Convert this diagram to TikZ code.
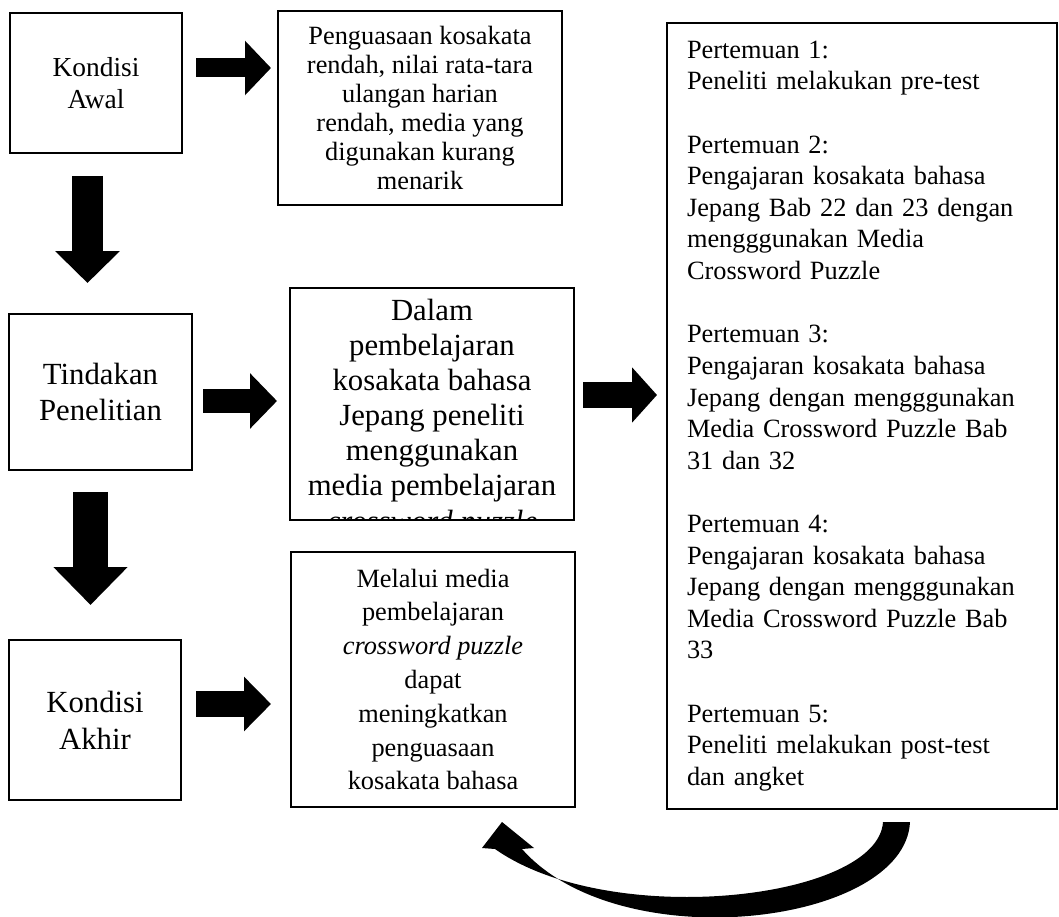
\documentclass[tikz,border=0pt]{standalone}
\usepackage{fontspec}
\setmainfont{Liberation Serif}
\usetikzlibrary{arrows.meta}

\newcommand{\pxu}{0.016cm}
\tikzset{
  box/.style = {draw, line width = 0.8pt, inner sep = 0pt, align = center},
  blockarrow/.style n args = {3}{line width = #1cm, -{Triangle[width = #2cm, length = #3cm]}}
}

\begin{document}
\begin{tikzpicture}[x = \pxu, y = -\pxu]
\useasboundingbox (0, 0) rectangle (1059, 917);

% kolom kiri
\node[box, minimum width = 172*\pxu, minimum height = 140*\pxu, font = \fontsize{12.5}{14.5}\selectfont] (awal) at (96, 83) {Kondisi\\Awal};
\node[box, minimum width = 183*\pxu, minimum height = 156*\pxu, font = \fontsize{14}{16.8}\selectfont] (tindakan) at (100.5, 392) {Tindakan\\Penelitian};
\node[box, minimum width = 172*\pxu, minimum height = 160*\pxu, font = \fontsize{14}{16.8}\selectfont] (akhir) at (95, 720) {Kondisi\\Akhir};

% kolom tengah
\node[box, minimum width = 284*\pxu, minimum height = 194*\pxu, font = \fontsize{12}{13.2}\selectfont] (rendah) at (420, 108) {Penguasaan kosakata\\rendah, nilai rata-tara\\ulangan harian\\rendah, media yang\\digunakan kurang\\menarik};
\node[box, minimum width = 284*\pxu, minimum height = 232*\pxu,
  path picture = {\node[anchor = north, font = \fontsize{14}{16}\selectfont, align = center] at ([yshift = -10*\pxu]path picture bounding box.north) {Dalam\\pembelajaran\\kosakata bahasa\\Jepang peneliti\\menggunakan\\media pembelajaran\\\textit{crossword puzzle}};}] (dalam) at (432, 404) {};
\node[box, minimum width = 284*\pxu, minimum height = 255*\pxu, font = \fontsize{12}{15.4}\selectfont] (melalui) at (433, 679.5) {Melalui media\\pembelajaran\\\textit{crossword puzzle}\\dapat\\meningkatkan\\penguasaan\\kosakata bahasa};

% kolom kanan
\node[box, align = left, text width = 350*\pxu, minimum width = 390*\pxu, minimum height = 786*\pxu, font = \fontsize{12}{14.4}\selectfont] (pertemuan) at (862, 416) {Pertemuan 1:\\Peneliti melakukan pre-test\\\mbox{}\\Pertemuan 2:\\Pengajaran kosakata bahasa\\Jepang Bab 22 dan 23 dengan\\mengggunakan Media\\Crossword Puzzle\\\mbox{}\\Pertemuan 3:\\Pengajaran kosakata bahasa\\Jepang dengan mengggunakan\\Media Crossword Puzzle Bab\\31 dan 32\\\mbox{}\\Pertemuan 4:\\Pengajaran kosakata bahasa\\Jepang dengan mengggunakan\\Media Crossword Puzzle Bab\\33\\\mbox{}\\Pertemuan 5:\\Peneliti melakukan post-test\\dan angket};

% panah blok
\coordinate (p1a) at (196, 68);  \coordinate (p1b) at (271, 68);
\coordinate (t1a) at (87.5, 176); \coordinate (t1b) at (87.5, 283);
\coordinate (p2a) at (203, 401); \coordinate (p2b) at (277, 401);
\coordinate (t2a) at (90.5, 492); \coordinate (t2b) at (90.5, 605);
\coordinate (p3a) at (196, 704); \coordinate (p3b) at (271, 704);
\coordinate (p4a) at (583, 395); \coordinate (p4b) at (657, 395);

\draw[blockarrow = {0.304}{0.848}{0.416}] (p1a) -- (p1b);
\draw[blockarrow = {0.496}{1.008}{0.512}] (t1a) -- (t1b);
\draw[blockarrow = {0.384}{0.864}{0.432}] (p2a) -- (p2b);
\draw[blockarrow = {0.56}{1.152}{0.608}] (t2a) -- (t2b);
\draw[blockarrow = {0.416}{0.848}{0.432}] (p3a) -- (p3b);
\draw[blockarrow = {0.416}{0.864}{0.4}] (p4a) -- (p4b);

% panah lengkung kembali
\fill (910, 822) .. controls (905, 925) and (620, 960) .. (522, 849) -- (534, 848) -- (502, 822) -- (482, 848) -- (495, 849) .. controls (610, 930) and (878, 900) .. (883, 822) -- cycle;

\end{tikzpicture}
\end{document}
